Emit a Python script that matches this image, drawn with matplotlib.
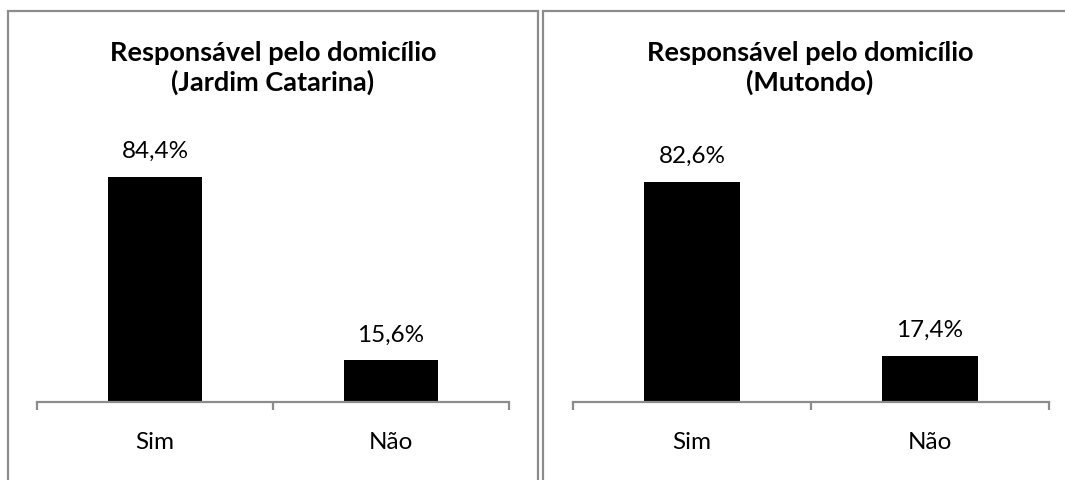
import matplotlib.pyplot as plt
from matplotlib.patches import Rectangle

plt.rcParams['font.family'] = ['Lato', 'DejaVu Sans']

categories = ['Sim', 'Não']
jardim_values = [84.4, 15.6]
mutondo_values = [82.6, 17.4]
titles = ['Responsável pelo domicílio\n(Jardim Catarina)',
          'Responsável pelo domicílio\n(Mutondo)']

W, H = 1065, 481
fig = plt.figure(figsize=(W / 100, H / 100), dpi=100)

# panel frames
for x0, x1 in [(8, 538), (543, 1075)]:
    fig.add_artist(Rectangle((x0 / W, -0.1), (x1 - x0) / W, (H - 12) / H + 0.1,
                             transform=fig.transFigure, fill=False,
                             edgecolor='#8c8c8c', linewidth=1.6))

panels = [((37, 509), jardim_values, titles[0], 273),
          ((573, 1049), mutondo_values, titles[1], 810)]

for (x0, x1), vals, title, tx in panels:
    ax = fig.add_axes([x0 / W, 78 / H, (x1 - x0) / W, 266.6 / H])
    xs = range(len(categories))
    bars = ax.bar(xs, vals, width=0.4, color='black')
    for b, v in zip(bars, vals):
        ax.text(b.get_x() + b.get_width() / 2, v + 6.0,
                f'{v:.1f}%'.replace('.', ','), ha='center', va='bottom',
                fontsize=17.5)
    ax.set_xlim(-0.5, 1.5)
    ax.set_ylim(0, 100)
    for s in ['top', 'right', 'left']:
        ax.spines[s].set_visible(False)
    ax.spines['bottom'].set_color('#8c8c8c')
    ax.spines['bottom'].set_linewidth(1.6)
    ax.set_yticks([])
    ax.set_xticks(list(xs))
    ax.set_xticklabels(categories, fontsize=17.5)
    ax.tick_params(axis='x', which='major', length=0, pad=21)
    ax.set_xticks([-0.5, 0.5, 1.5], minor=True)
    ax.tick_params(axis='x', which='minor', length=6, width=1.6,
                   color='#8c8c8c', direction='out')
    fig.text(tx / W, 1 - 68 / H, title, ha='center', va='center',
             fontsize=19.5, fontweight='bold', linespacing=1.2)

fig.savefig('out.png', dpi=100)
